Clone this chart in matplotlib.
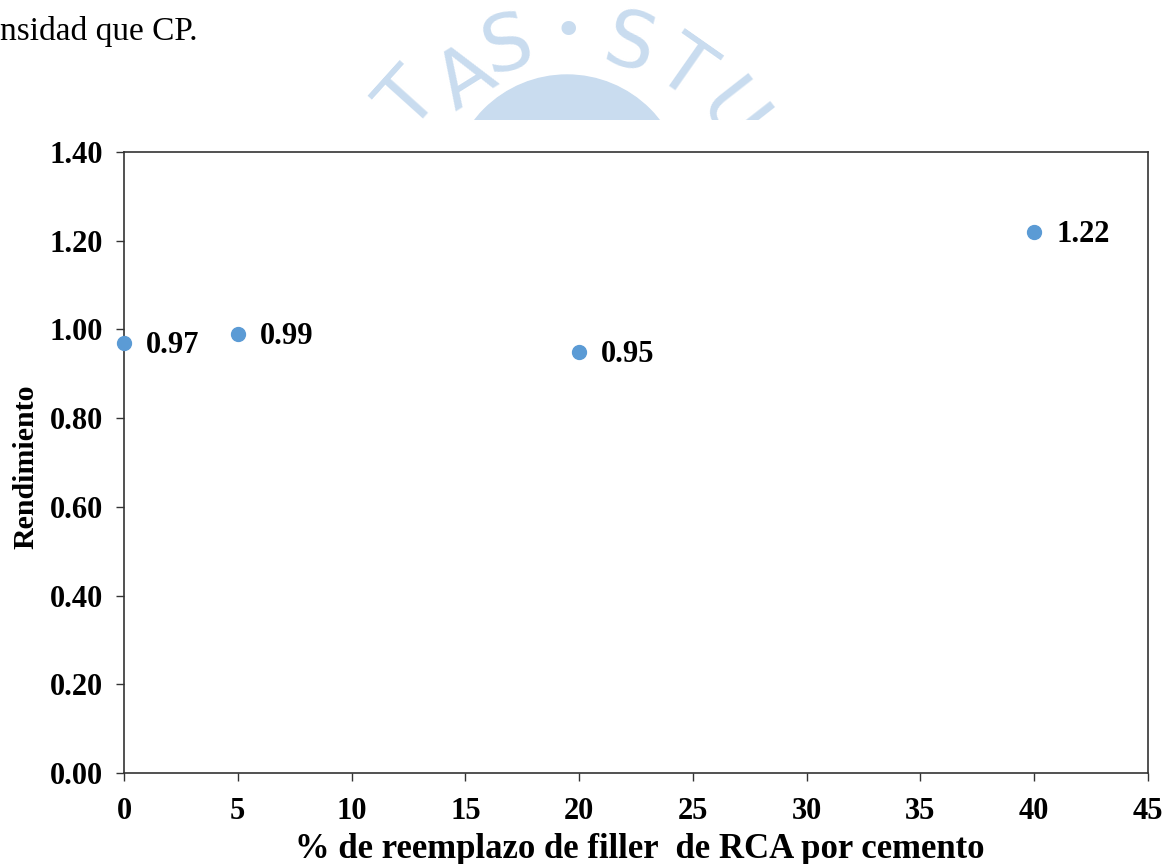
import matplotlib.pyplot as plt
from matplotlib.patches import Circle, Rectangle

# data
reemplazo = [0, 5, 20, 40]
rendimiento = [0.97, 0.99, 0.95, 1.22]
x_ticks = [0, 5, 10, 15, 20, 25, 30, 35, 40, 45]
y_ticks = [0.0, 0.2, 0.4, 0.6, 0.8, 1.0, 1.2, 1.4]

W, H = 1173, 864
fig = plt.figure(figsize=(W / 100, H / 100), dpi=100)
serif = 'Liberation Serif'
wm = '#c9dcef'

# pixel coords -> figure fraction
def fx(px):
    return px / W

def fy(py):
    return 1 - py / H

# faded logo watermark behind the chart
clip = Rectangle((0, fy(120)), 1, 1, transform=fig.transFigure, visible=False)
fig.add_artist(clip)
dome = Circle((567, H - 192), 117, transform=None, color=wm, zorder=0)
fig.add_artist(dome)
dome.set_clip_path(clip)
for ch, px, py, rot, fs in [('T', 410, 102, 48, 56), ('A', 467, 80, 32, 56), ('S', 508, 46, 15, 56),
                            ('•', 568, 32, 0, 36), ('S', 630, 46, -15, 56), ('T', 683, 70, -35, 56),
                            ('U', 730, 116, -52, 56)]:
    t = fig.text(fx(px), fy(py), ch, color=wm, fontsize=fs, family='DejaVu Sans',
                 ha='center', va='center', rotation=rot, zorder=0)
    t.set_clip_path(clip)

fig.text(0.0, fy(40), 'nsidad que CP.', family=serif, fontsize=24, va='baseline', ha='left')

ax = fig.add_axes([fx(124), fy(773), fx(1148) - fx(124), fy(152) - fy(773)])
ax.set_facecolor('white')
ax.plot(reemplazo, rendimiento, 'o', color='#5b9bd5', markersize=10, clip_on=False, zorder=3)
for x, y in zip(reemplazo, rendimiento):
    ax.annotate(f'{y:.2f}', (x, y), xytext=(16, -2), textcoords='offset points',
                ha='left', va='center', family=serif, weight='bold', fontsize=22)

ax.set_xlim(0, 45)
ax.set_ylim(0, 1.4)
ax.set_xticks(x_ticks)
ax.set_yticks(y_ticks)
ax.set_yticklabels([f'{v:.2f}' for v in y_ticks])
ax.tick_params(direction='out', length=6, width=1, color='#333333')
ax.tick_params(axis='y', pad=9)
ax.tick_params(axis='x', pad=11)
for lbl in ax.get_xticklabels() + ax.get_yticklabels():
    lbl.set_family(serif)
    lbl.set_weight('bold')
    lbl.set_fontsize(22)
for s in ax.spines.values():
    s.set_color('#333333')
    s.set_linewidth(1.2)

ax.set_xlabel('% de reemplazo de filler  de RCA por cemento', family=serif,
              weight='bold', fontsize=25)
ax.set_ylabel('Rendimiento', family=serif, weight='bold', fontsize=21.5)
ax.xaxis.set_label_coords(0.504, -0.097)
ax.yaxis.set_label_coords(-0.083, 0.493)

fig.savefig('out.png', dpi=100, facecolor='white')
